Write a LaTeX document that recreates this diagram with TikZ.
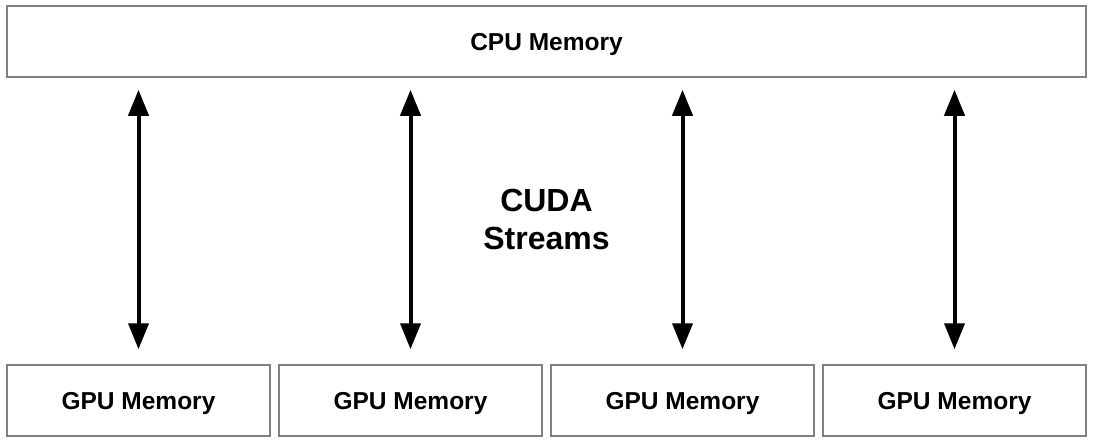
\documentclass[tikz,border=0pt]{standalone}
\usepackage{fontspec}
\setmainfont{Liberation Sans}
\usepackage{tikz}
\usetikzlibrary{arrows.meta,positioning,calc}
\usepackage{xcolor}
\definecolor{frame}{HTML}{808080}
\definecolor{ink}{HTML}{000000}
\tikzset{
  membox/.style={draw=frame, fill=white, line width=1.5pt, align=center,
                 font=\fontsize{24.5}{29}\selectfont\bfseries, inner sep=0pt,
                 text height=17.5pt, text depth=0pt},
  gpubox/.style={membox, minimum width=263pt, minimum height=71pt},
  ar/.style={{Triangle[length=26pt,width=20pt]}-{Triangle[length=26pt,width=20pt]},
             line width=4pt, draw=ink},
  lbl/.style={font=\fontsize{32}{38}\selectfont\bfseries, align=center}
}
\begin{document}
\begin{tikzpicture}[x=1pt,y=-1pt]
  \useasboundingbox (0,0) rectangle (1094,440);
  \node[membox, minimum width=1079pt, minimum height=71pt] (cpu) at (546.5,41.5) {CPU Memory};
  \node[gpubox] (gpu1) at (138.5,400.5) {GPU Memory};
  \node[gpubox] (gpu2) at (410.5,400.5) {GPU Memory};
  \node[gpubox] (gpu3) at (682.5,400.5) {GPU Memory};
  \node[gpubox] (gpu4) at (954.5,400.5) {GPU Memory};
  \node[lbl] (streams) at (546.5,219) {CUDA\\Streams};
  \foreach \i in {1,...,4}
    \draw[ar, shorten <=12pt, shorten >=15pt] (gpu\i.north |- cpu.south) -- (gpu\i.north);
\end{tikzpicture}
\end{document}
